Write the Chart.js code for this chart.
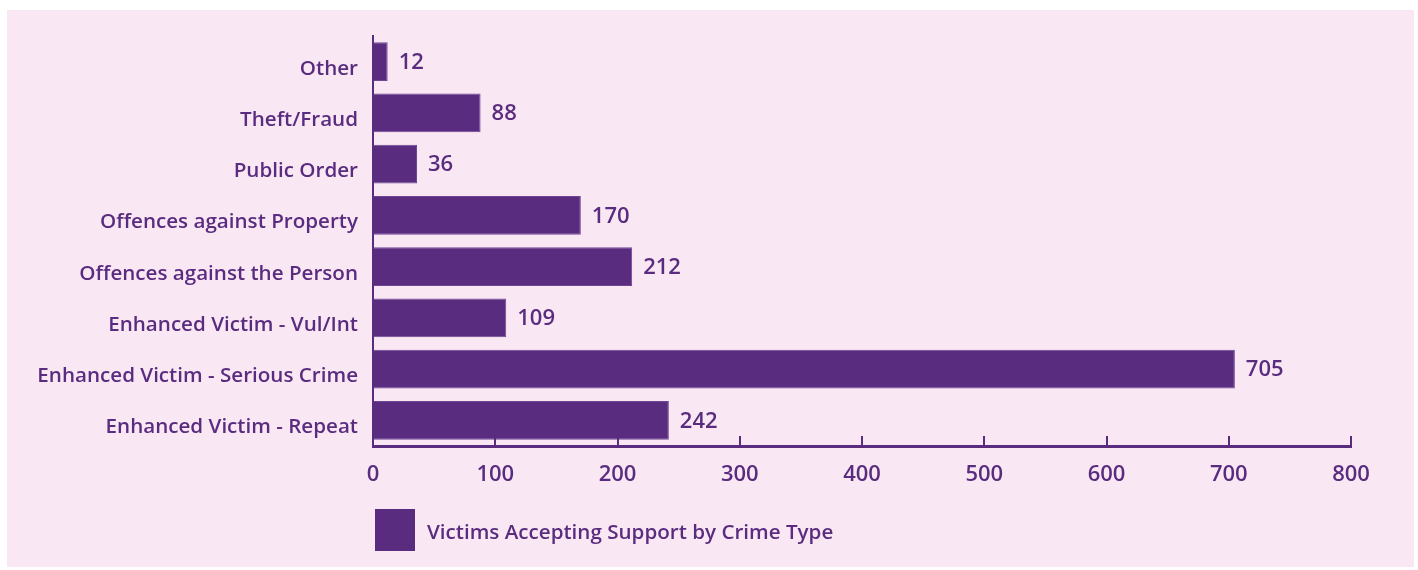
<!DOCTYPE html>
<html>
<head>
<meta charset="utf-8">
<script src="https://cdn.jsdelivr.net/npm/chart.js@4"></script>
<style>
html,body{margin:0;padding:0;background:#fff;}
canvas{display:block;}
</style>
</head>
<body>
<canvas id="c" width="1418" height="570"></canvas>
<script>
const categories = ["Other","Theft/Fraud","Public Order","Offences against Property","Offences against the Person","Enhanced Victim - Vul/Int","Enhanced Victim - Serious Crime","Enhanced Victim - Repeat"];
const values = [12, 88, 36, 170, 212, 109, 705, 242];
const seriesLabel = "Victims Accepting Support by Crime Type";
const xTicks = [0,100,200,300,400,500,600,700,800];

const PURPLE = '#5a2c80';
const PINK = '#f9e8f3';
const FONT = '"Open Sans", Lato, sans-serif';

const bgPlugin = {
  id: 'bg',
  beforeDraw(chart){
    const ctx = chart.ctx;
    ctx.save();
    ctx.fillStyle = '#ffffff';
    ctx.fillRect(0,0,chart.width,chart.height);
    ctx.fillStyle = PINK;
    ctx.fillRect(7,10,1407,557);
    ctx.restore();
  }
};

const tickPlugin = {
  id: 'upTicks',
  afterDraw(chart){
    const ctx = chart.ctx;
    const xs = chart.scales.x;
    const bottom = chart.chartArea.bottom;
    ctx.save();
    ctx.strokeStyle = PURPLE;
    ctx.lineWidth = 2;
    xs.ticks.forEach(t => {
      const px = Math.round(xs.getPixelForValue(t.value));
      ctx.beginPath();
      ctx.moveTo(px, bottom);
      ctx.lineTo(px, bottom - 10);
      ctx.stroke();
    });
    ctx.restore();
  }
};

const labelPlugin = {
  id: 'valLabels',
  afterDatasetsDraw(chart){
    const ctx = chart.ctx;
    const meta = chart.getDatasetMeta(0);
    ctx.save();
    ctx.fillStyle = PURPLE;
    ctx.font = '600 22px ' + FONT;
    ctx.textAlign = 'left';
    ctx.textBaseline = 'middle';
    meta.data.forEach((bar, i) => {
      ctx.fillText(String(chart.data.datasets[0].data[i]), bar.x + 11, bar.y + 1);
    });
    ctx.restore();
  }
};

const legendPlugin = {
  id: 'customLegend',
  afterDraw(chart){
    const ctx = chart.ctx;
    ctx.save();
    ctx.fillStyle = PURPLE;
    ctx.fillRect(375, 509, 40, 42);
    ctx.font = '600 20.6px ' + FONT;
    ctx.textAlign = 'left';
    ctx.textBaseline = 'middle';
    ctx.fillText(chart.data.datasets[0].label, 427, 533);
    ctx.restore();
  }
};

new Chart(document.getElementById('c'), {
  type: 'bar',
  data: {
    labels: categories,
    datasets: [{
      label: seriesLabel,
      data: values,
      backgroundColor: PURPLE,
      borderColor: '#6f4596',
      borderWidth: 1,
      barPercentage: 0.76,
      categoryPercentage: 1
    }]
  },
  options: {
    indexAxis: 'y',
    responsive: false,
    animation: false,
    layout: { padding: { left: 0, top: 36, right: 67, bottom: 0 } },
    plugins: {
      legend: { display: false },
      tooltip: { enabled: false }
    },
    scales: {
      x: {
        min: 0, max: 800,
        afterBuildTicks(scale){ scale.ticks = xTicks.map(v => ({value: v})); },
        afterFit(scale){ scale.height = 124; },
        grid: { display: true, drawOnChartArea: false, drawTicks: false },
        border: { display: true, color: PURPLE, width: 3 },
        ticks: { color: PURPLE, font: { family: FONT, size: 22, weight: '600' }, padding: 16, maxRotation: 0 }
      },
      y: {
        afterFit(scale){ scale.width = 373; },
        grid: { display: false, drawTicks: false },
        border: { display: true, color: PURPLE, width: 2 },
        ticks: { color: PURPLE, font: { family: FONT, size: 20.6, weight: '600' }, padding: 15, labelOffset: 7 }
      }
    }
  },
  plugins: [bgPlugin, tickPlugin, labelPlugin, legendPlugin]
});
</script>
</body>
</html>
